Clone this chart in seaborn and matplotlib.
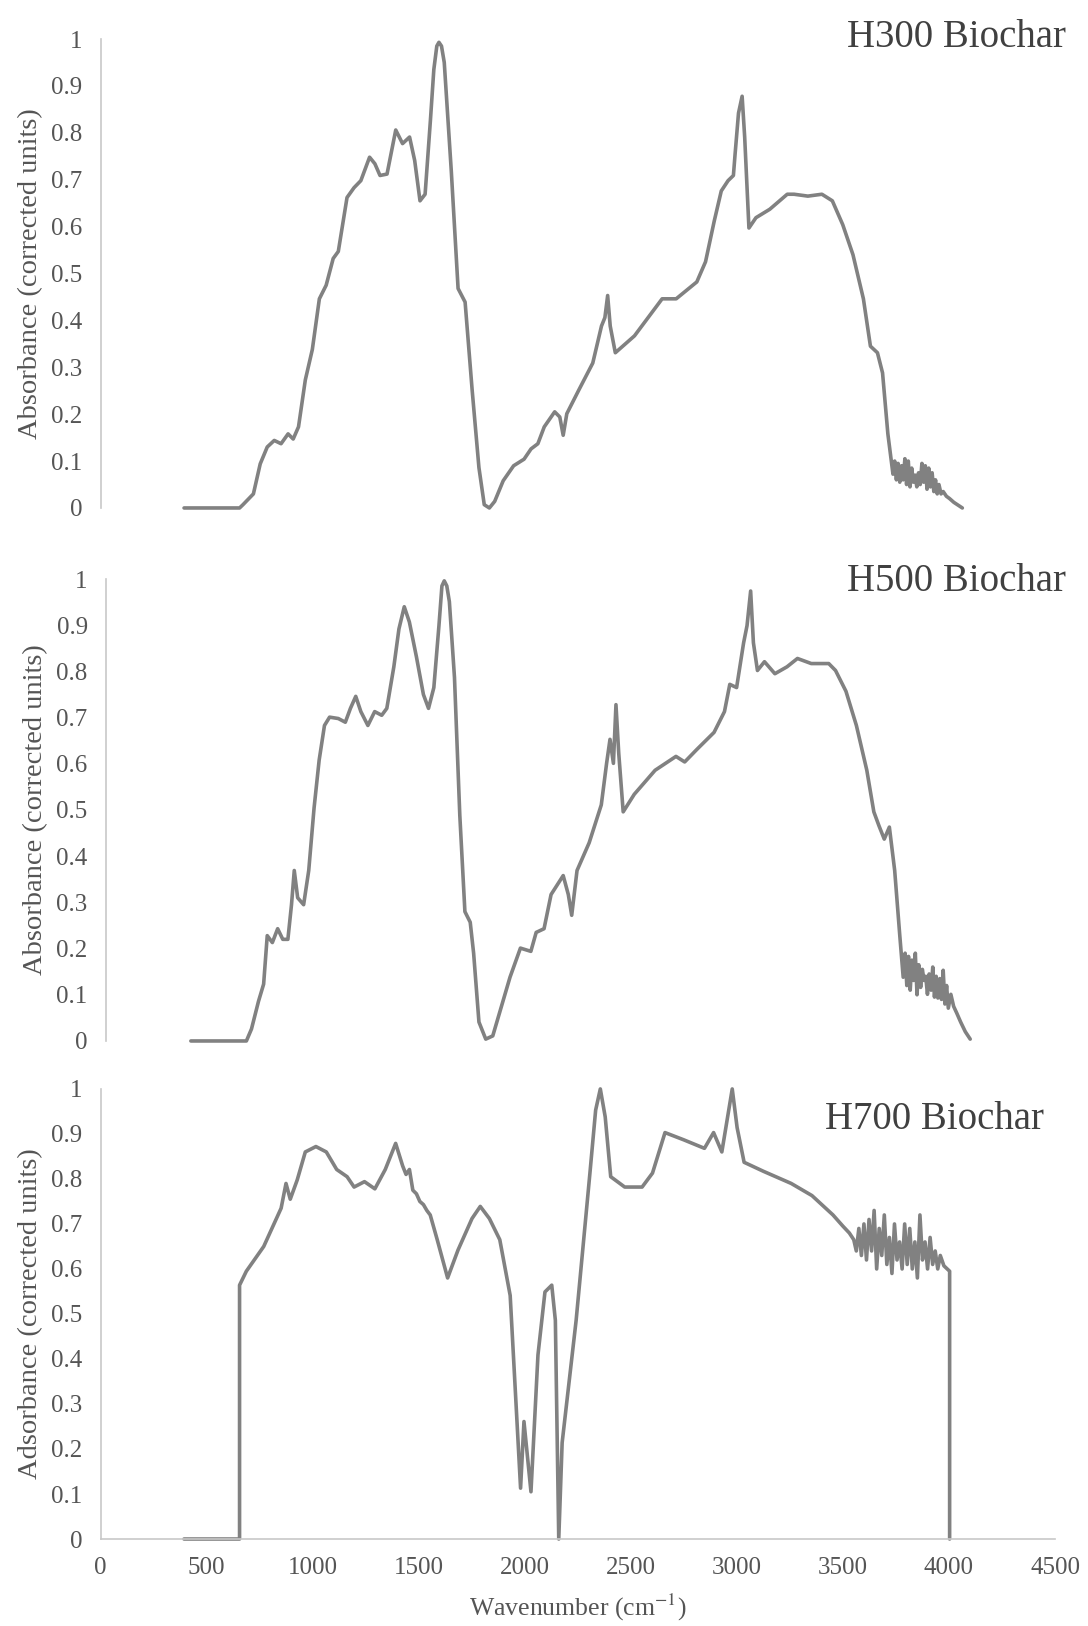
import matplotlib
matplotlib.use('Agg')
import matplotlib.pyplot as plt
import seaborn as sns

# FTIR spectra: (wavenumber cm-1, normalised absorbance)
h300_points = [
    (392, 0), (653, 0), (669, 0.007), (718, 0.03), (750, 0.094), (783, 0.13), (816, 0.144),
    (848, 0.137), (881, 0.158), (905, 0.147), (930, 0.173), (962, 0.273), (995, 0.338),
    (1028, 0.446), (1060, 0.475), (1093, 0.532), (1117, 0.547), (1158, 0.662), (1191, 0.683),
    (1223, 0.698), (1264, 0.748), (1289, 0.734), (1313, 0.709), (1346, 0.712), (1387, 0.806),
    (1419, 0.777), (1452, 0.791), (1476, 0.741), (1501, 0.655), (1525, 0.669), (1550, 0.827),
    (1566, 0.935), (1580, 0.985), (1590, 0.993), (1602, 0.985), (1615, 0.95), (1648, 0.719),
    (1680, 0.468), (1713, 0.439), (1746, 0.252), (1778, 0.086), (1803, 0.007), (1827, 0),
    (1852, 0.014), (1892, 0.058), (1941, 0.09), (1990, 0.104), (2023, 0.126), (2055, 0.137),
    (2085, 0.173), (2134, 0.205), (2158, 0.194), (2174, 0.155), (2191, 0.201), (2248, 0.252),
    (2313, 0.309), (2354, 0.388), (2370, 0.406), (2383, 0.453), (2395, 0.388), (2419, 0.331),
    (2509, 0.367), (2639, 0.446), (2705, 0.446), (2802, 0.482), (2843, 0.525), (2884, 0.612),
    (2917, 0.676), (2949, 0.698), (2974, 0.709), (2982, 0.755), (2998, 0.842), (3015, 0.878),
    (3027, 0.791), (3047, 0.597), (3080, 0.619), (3145, 0.637), (3227, 0.669), (3259, 0.669),
    (3324, 0.665), (3390, 0.669), (3439, 0.655), (3488, 0.604), (3536, 0.54), (3585, 0.446),
    (3618, 0.345), (3651, 0.331), (3675, 0.288), (3700, 0.158), (3724, 0.072), (3732, 0.1),
    (3740, 0.06), (3748, 0.095), (3756, 0.055), (3764, 0.09), (3772, 0.06), (3780, 0.105),
    (3788, 0.05), (3796, 0.1), (3804, 0.045), (3812, 0.085), (3820, 0.055), (3828, 0.07),
    (3836, 0.045), (3844, 0.075), (3852, 0.05), (3860, 0.095), (3868, 0.055), (3876, 0.09),
    (3884, 0.04), (3892, 0.085), (3900, 0.045), (3908, 0.075), (3916, 0.035), (3924, 0.06),
    (3932, 0.03), (3940, 0.05), (3950, 0.03), (3960, 0.035), (3975, 0.025), (3990, 0.02),
    (4010, 0.012), (4030, 0.006), (4050, 0),
]

h500_points = [
    (400, 0), (661, 0), (685, 0.026), (718, 0.086), (742, 0.123), (759, 0.228), (783, 0.213),
    (808, 0.243), (832, 0.22), (856, 0.22), (873, 0.295), (886, 0.369), (902, 0.31),
    (930, 0.295), (954, 0.369), (979, 0.504), (1003, 0.608), (1028, 0.683), (1052, 0.701),
    (1093, 0.698), (1126, 0.69), (1150, 0.72), (1175, 0.746), (1199, 0.713), (1232, 0.683),
    (1264, 0.713), (1297, 0.705), (1321, 0.72), (1354, 0.81), (1378, 0.892), (1403, 0.94),
    (1427, 0.907), (1460, 0.832), (1493, 0.75), (1517, 0.72), (1542, 0.765), (1566, 0.899),
    (1580, 0.985), (1591, 0.996), (1603, 0.985), (1615, 0.951), (1639, 0.787), (1664, 0.489),
    (1688, 0.28), (1713, 0.257), (1729, 0.19), (1754, 0.041), (1786, 0.004), (1819, 0.011),
    (1852, 0.063), (1900, 0.138), (1949, 0.201), (1998, 0.194), (2023, 0.235), (2060, 0.243),
    (2093, 0.317), (2125, 0.34), (2150, 0.358), (2174, 0.317), (2190, 0.272), (2215, 0.369),
    (2272, 0.429), (2329, 0.511), (2354, 0.601), (2370, 0.653), (2386, 0.601), (2398, 0.728),
    (2411, 0.623), (2432, 0.496), (2484, 0.534), (2582, 0.586), (2680, 0.616), (2721, 0.604),
    (2778, 0.631), (2859, 0.668), (2908, 0.713), (2933, 0.772), (2965, 0.765), (2998, 0.862),
    (3014, 0.899), (3031, 0.974), (3044, 0.862), (3063, 0.802), (3096, 0.821), (3145, 0.795),
    (3202, 0.81), (3251, 0.828), (3316, 0.817), (3398, 0.817), (3430, 0.802), (3479, 0.757),
    (3528, 0.683), (3577, 0.586), (3610, 0.496), (3634, 0.466), (3659, 0.437), (3683, 0.463),
    (3708, 0.369), (3732, 0.228), (3748, 0.138), (3757, 0.19), (3765, 0.12), (3773, 0.183),
    (3781, 0.11), (3789, 0.175), (3797, 0.131), (3805, 0.19), (3813, 0.1), (3821, 0.165),
    (3830, 0.116), (3838, 0.155), (3846, 0.131), (3854, 0.14), (3862, 0.101), (3870, 0.145),
    (3879, 0.11), (3887, 0.16), (3895, 0.095), (3903, 0.14), (3911, 0.093), (3920, 0.135),
    (3928, 0.09), (3936, 0.153), (3944, 0.08), (3952, 0.12), (3960, 0.071), (3972, 0.101),
    (3985, 0.075), (4000, 0.06), (4018, 0.041), (4040, 0.02), (4063, 0.004),
]

h700_points = [
    (393, 0), (655, 0), (655, 0.564), (687, 0.595), (769, 0.65), (851, 0.735), (874, 0.79),
    (894, 0.755), (927, 0.798), (965, 0.86), (1015, 0.872), (1064, 0.86), (1113, 0.821),
    (1162, 0.805), (1195, 0.782), (1244, 0.794), (1293, 0.778), (1342, 0.821), (1391, 0.879),
    (1424, 0.829), (1440, 0.81), (1456, 0.821), (1472, 0.775), (1489, 0.767), (1505, 0.75),
    (1522, 0.743), (1538, 0.73), (1554, 0.72), (1587, 0.665), (1636, 0.58), (1685, 0.642),
    (1751, 0.712), (1790, 0.739), (1833, 0.712), (1882, 0.665), (1931, 0.541), (1964, 0.253),
    (1980, 0.113), (1996, 0.261), (2029, 0.105), (2062, 0.409), (2095, 0.549), (2127, 0.564),
    (2144, 0.486), (2160, 0), (2176, 0.214), (2242, 0.486), (2307, 0.813), (2334, 0.953),
    (2356, 1.0), (2379, 0.938), (2405, 0.805), (2471, 0.782), (2553, 0.782), (2602, 0.813),
    (2661, 0.903), (2749, 0.887), (2847, 0.868), (2890, 0.903), (2929, 0.86), (2978, 1.0),
    (3001, 0.914), (3034, 0.837), (3125, 0.817), (3256, 0.79), (3354, 0.763), (3453, 0.72),
    (3500, 0.695), (3530, 0.68), (3551, 0.665), (3563, 0.64), (3575, 0.69), (3587, 0.63),
    (3599, 0.7), (3611, 0.62), (3623, 0.71), (3635, 0.64), (3647, 0.73), (3659, 0.6),
    (3671, 0.69), (3683, 0.63), (3695, 0.72), (3707, 0.61), (3719, 0.67), (3731, 0.59),
    (3743, 0.7), (3755, 0.62), (3767, 0.66), (3779, 0.6), (3791, 0.7), (3803, 0.61),
    (3815, 0.69), (3827, 0.6), (3839, 0.66), (3851, 0.58), (3863, 0.72), (3875, 0.62),
    (3887, 0.66), (3899, 0.6), (3911, 0.67), (3923, 0.61), (3935, 0.64), (3947, 0.6),
    (3959, 0.63), (3976, 0.607), (4003, 0.595), (4003, 0),
]

titles = ['H300 Biochar', 'H500 Biochar', 'H700 Biochar']
ylabels = ['Absorbance (corrected units)', 'Absorbance (corrected units)',
           'Adsorbance (corrected units)']
y_ticks = [0, 0.1, 0.2, 0.3, 0.4, 0.5, 0.6, 0.7, 0.8, 0.9, 1]
y_ticklabels = ['0', '0.1', '0.2', '0.3', '0.4', '0.5', '0.6', '0.7', '0.8', '0.9', '1']
x_ticks = [0, 500, 1000, 1500, 2000, 2500, 3000, 3500, 4000, 4500]

sns.set_theme(style="white")
plt.rcParams['font.family'] = ['Liberation Serif', 'DejaVu Serif']
plt.rcParams['mathtext.fontset'] = 'stix'

LINE = '#818181'
AXIS = '#c8c8c8'
TEXT = '#555555'

fig = plt.figure(figsize=(10.88, 16.26), dpi=100)
# each panel was pasted in separately, so the boxes are placed one by one
boxes = [[0.0925, 0.6876, 0.880, 0.2884],
         [0.0972, 0.3598, 0.880, 0.2841],
         [0.0925, 0.0535, 0.8772, 0.2768]]
spectra = [h300_points, h500_points, h700_points]
title_pos = [(1.008, 1.004), (1.003, 0.995), (0.988, 0.932)]

for i, pts in enumerate(spectra):
    wn = [p[0] for p in pts]
    ab = [p[1] for p in pts]
    ax = fig.add_axes(boxes[i])
    sns.lineplot(x=wn, y=ab, ax=ax, color=LINE, linewidth=2.6,
                 estimator=None, sort=False, clip_on=False)
    ax.set_xlim(0, 4500)
    ax.set_ylim(0, 1)
    ax.set_yticks(y_ticks)
    ax.set_yticklabels(y_ticklabels)
    ax.tick_params(axis='both', length=0, labelsize=18, labelcolor=TEXT, pad=13)
    for side in ['top', 'right']:
        ax.spines[side].set_visible(False)
    ax.spines['left'].set_color(AXIS)
    ax.spines['left'].set_linewidth(1.2)
    if i < 2:
        ax.spines['bottom'].set_visible(False)
        ax.set_xticks([])
    else:
        ax.spines['bottom'].set_color(AXIS)
        ax.spines['bottom'].set_linewidth(1.2)
        ax.set_xticks(x_ticks)
        ax.set_xticklabels([str(t) for t in x_ticks])
        ax.set_xlabel('Wavenumber (cm$^{-1}$)', fontsize=18.5, color=TEXT, labelpad=9)
    ax.set_ylabel(ylabels[i], fontsize=20.5, color=TEXT, labelpad=6)
    ax.text(title_pos[i][0], title_pos[i][1], titles[i], transform=ax.transAxes,
            ha='right', va='center', fontsize=28, color='#404040')

fig.savefig('out.png', dpi=100, facecolor='white')
